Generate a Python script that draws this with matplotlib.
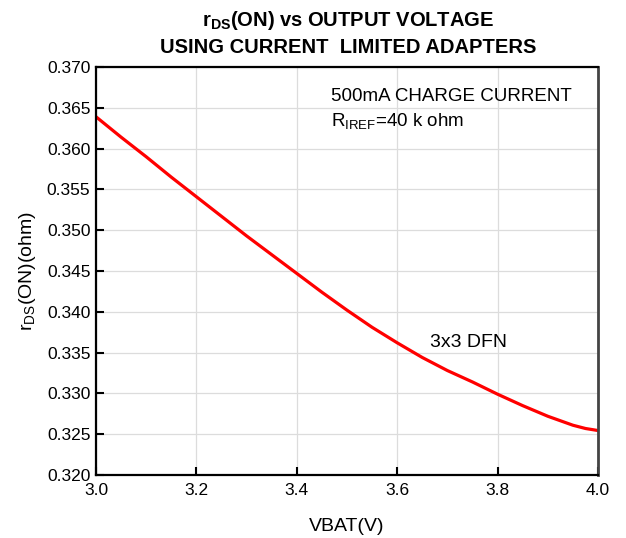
import matplotlib
matplotlib.use("Agg")
import matplotlib.pyplot as plt

plt.rcParams['font.family'] = ['Liberation Sans', 'DejaVu Sans']
plt.rcParams['mathtext.fontset'] = 'custom'
plt.rcParams['mathtext.rm'] = 'Liberation Sans'
plt.rcParams['mathtext.it'] = 'Liberation Sans'
plt.rcParams['mathtext.bf'] = 'Liberation Sans:bold'

# rDS(ON)
vbat = [3.00, 3.05, 3.10, 3.15, 3.20, 3.25, 3.30, 3.35, 3.40, 3.45, 3.50,
        3.55, 3.60, 3.65, 3.70, 3.75, 3.80, 3.85, 3.90, 3.95, 3.975, 4.00]
rds_on = [0.3639, 0.3614, 0.3590, 0.3565, 0.3541, 0.3517, 0.3493, 0.3470,
          0.3447, 0.3424, 0.3402, 0.3381, 0.3362, 0.3344, 0.3328, 0.3314,
          0.3299, 0.3285, 0.3272, 0.3261, 0.3257, 0.32545]

x_ticks = [3.0, 3.2, 3.4, 3.6, 3.8, 4.0]
y_ticks = [0.320, 0.325, 0.330, 0.335, 0.340, 0.345, 0.350, 0.355, 0.360, 0.365, 0.370]

fig = plt.figure(figsize=(6.26, 5.38), dpi=100)
ax = fig.add_axes([96 / 626, 1 - 475 / 538, 502 / 626, 408 / 538])

ax.plot(vbat, rds_on, color='#ff0000', lw=2.3, solid_joinstyle='round')

ax.set_xlim(3.0, 4.0)
ax.set_ylim(0.320, 0.370)
ax.set_xticks(x_ticks)
ax.set_yticks(y_ticks)
ax.set_xticklabels(['%.1f' % v for v in x_ticks], fontsize=12.5)
ax.set_yticklabels(['%.3f' % v for v in y_ticks], fontsize=12.5)
ax.grid(True, color='#dcdcdc', lw=0.9)
ax.set_axisbelow(True)
ax.tick_params(direction='in', length=6, width=1.5, color='black', pad=4)
ax.tick_params(axis='x', pad=6)

for side in ['left', 'bottom', 'top']:
    ax.spines[side].set_linewidth(1.6)
    ax.spines[side].set_color('black')
ax.spines['right'].set_linewidth(2)
ax.spines['right'].set_color('#444444')

ax.set_xlabel('VBAT(V)', fontsize=14, labelpad=14)
ax.set_ylabel(r'r$_{\mathrm{DS}}$(ON)(ohm)', fontsize=14, labelpad=6)

fig.text(0.556, 0.962, r'r$_{\mathbf{DS}}$(ON) vs OUTPUT VOLTAGE', ha='center', va='center',
         fontsize=14.5, fontweight='bold')
fig.text(0.556, 0.912, 'USING CURRENT  LIMITED ADAPTERS', ha='center', va='center',
         fontsize=14.5, fontweight='bold')

ax.text(3.468, 0.3664, '500mA CHARGE CURRENT', fontsize=13.5, va='center', ha='left')
ax.text(3.468, 0.3634, r'R$_{\mathrm{IREF}}$=40 k ohm', fontsize=13.5, va='center', ha='left')
ax.text(3.665, 0.3362, '3x3 DFN', fontsize=14, va='center', ha='left')

fig.savefig('out.png', dpi=100)
